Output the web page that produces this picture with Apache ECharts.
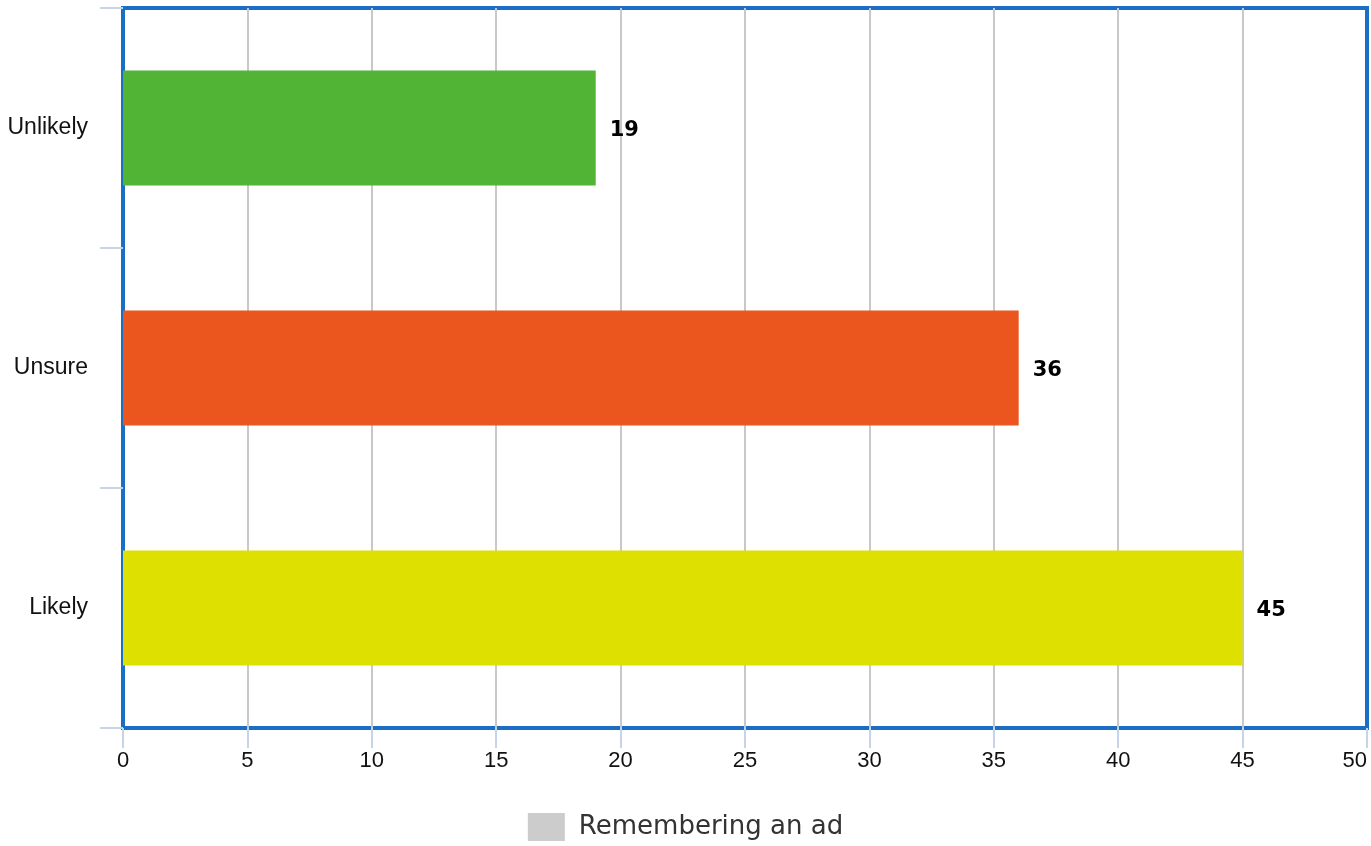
<!DOCTYPE html>
<html><head><meta charset="utf-8">
<script src="https://cdn.jsdelivr.net/npm/echarts@6/dist/echarts.min.js"></script>
<style>html,body{margin:0;padding:0;background:#fff}#c{width:1371px;height:846px}</style>
</head><body><div id="c"></div>
<script>
const categories = ['Likely', 'Unsure', 'Unlikely'];
const values = [45, 36, 19];
const barColors = ['#dde000', '#eb561e', '#52b435'];
const seriesName = 'Remembering an ad';
const xTicks = [0, 5, 10, 15, 20, 25, 30, 35, 40, 45, 50];

const chart = echarts.init(document.getElementById('c'), null, {renderer: 'canvas'});
chart.setOption({
  animation: false,
  backgroundColor: '#ffffff',
  grid: {
    left: 123, right: 4, top: 8, bottom: 118,
    show: true, borderColor: '#1a6fc4', borderWidth: 4, backgroundColor: 'transparent',
    containLabel: false
  },
  legend: {
    show: true,
    bottom: 0,
    left: 'center',
    icon: 'rect',
    itemWidth: 37,
    itemHeight: 28,
    itemGap: 14,
    textStyle: {fontFamily: 'DejaVu Sans', fontSize: 26, color: '#333333', padding: [0, 0, 0, 9]},
    data: [{name: seriesName, itemStyle: {color: '#cccccc'}}]
  },
  xAxis: {
    type: 'value',
    min: xTicks[0], max: xTicks[xTicks.length - 1], interval: 5,
    axisLine: {show: false},
    axisTick: {show: true, length: 20, lineStyle: {color: '#c5d5e8', width: 2}},
    axisLabel: {margin: 22, fontFamily: 'Liberation Sans', fontSize: 22, color: '#111111', alignMaxLabel: 'right'},
    splitLine: {show: true, showMinLine: false, showMaxLine: false, lineStyle: {color: '#c8c8c8', width: 2}}
  },
  yAxis: {
    type: 'category',
    data: categories,
    axisLine: {show: true, lineStyle: {color: '#1a6fc4', width: 4}},
    axisTick: {show: true, length: 23, alignWithLabel: false, lineStyle: {color: '#c5d5e8', width: 2}},
    axisLabel: {margin: 35, fontFamily: 'Liberation Sans', fontSize: 23, color: '#111111'},
    splitLine: {show: false}
  },
  series: [{
    name: seriesName,
    type: 'bar',
    barWidth: '48%',
    z: 3,
    data: values.map((v, i) => ({value: v, itemStyle: {color: barColors[i]}})),
    label: {
      show: true, position: 'right', distance: 14, offset: [0, 3],
      fontFamily: 'DejaVu Sans', fontSize: 21, fontWeight: 'bold', color: '#000000'
    }
  }]
});
</script></body></html>
